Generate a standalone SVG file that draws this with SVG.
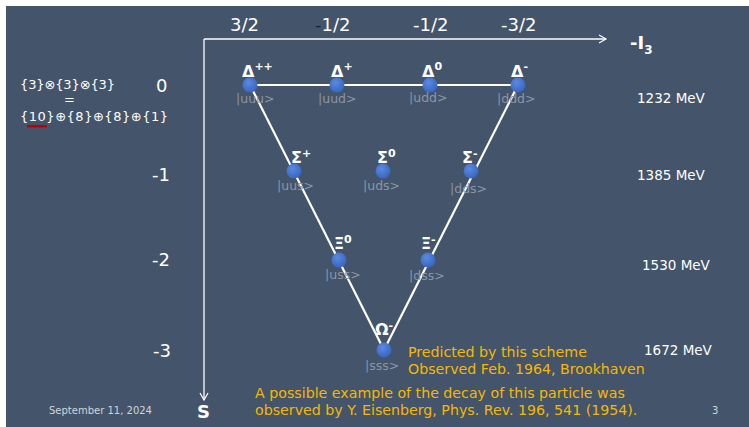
<svg xmlns="http://www.w3.org/2000/svg" width="749" height="427" viewBox="0 0 749 427">
<defs>
<style>
text{font-family:"DejaVu Sans","Verdana",sans-serif;}
.ax{fill:#ffffff;font-size:18px;}
.mev{fill:#ffffff;font-size:13.5px;}
.gr{fill:#ffffff;font-size:16px;font-weight:bold;}
.sup{font-size:11px;}
.ket{fill:#8b96a6;font-size:12.5px;}
.note{fill:#f5b800;font-size:14.2px;}
.small{fill:#d0d4da;font-size:10px;}
.node{fill:url(#ball);}
.conn{stroke:#ffffff;stroke-width:2.2;fill:none;}
.axis{stroke:#ffffff;stroke-width:1.3;fill:none;}
</style>
<radialGradient id="ball" cx="0.4" cy="0.35" r="0.7">
<stop offset="0" stop-color="#5b8ae0"/>
<stop offset="1" stop-color="#3563be"/>
</radialGradient>
<marker id="arr" markerWidth="10" markerHeight="10" refX="8" refY="5" orient="auto" markerUnits="userSpaceOnUse">
<path d="M1,1 L8,5 L1,9" fill="none" stroke="#ffffff" stroke-width="1.2"/>
</marker>
</defs>
<rect x="0" y="0" width="749" height="427" fill="#ffffff"/>
<rect x="6" y="6" width="743" height="421" fill="#44546a"/>

<g id="axes">
<line class="axis" x1="204" y1="39" x2="606" y2="39" marker-end="url(#arr)"/>
<line class="axis" x1="204" y1="39" x2="204" y2="400" marker-end="url(#arr)"/>
<text x="630" y="49" fill="#ffffff" font-size="18" font-weight="bold">-I<tspan font-size="12" dy="5">3</tspan></text>
<text x="197" y="418" fill="#ffffff" font-size="18" font-weight="bold">S</text>
<text class="ax" x="230" y="31">3/2</text>
<text class="ax" x="315" y="31"><tspan fill="#1e2530">-</tspan>1/2</text>
<text class="ax" x="413" y="31">-1/2</text>
<text class="ax" x="501" y="31">-3/2</text>
<text class="ax" x="156" y="92">0</text>
<text class="ax" x="152" y="181">-1</text>
<text class="ax" x="152" y="266">-2</text>
<text class="ax" x="153" y="357">-3</text>
</g>

<g id="masses">
<text class="mev" x="637" y="103">1232 MeV</text>
<text class="mev" x="637" y="180">1385 MeV</text>
<text class="mev" x="642" y="270">1530 MeV</text>
<text class="mev" x="644" y="355">1672 MeV</text>
</g>

<g id="product">
<text x="20" y="89" fill="#ffffff" font-size="13" textLength="95">{3}⊗{3}⊗{3}</text>
<text x="64" y="104" fill="#ffffff" font-size="13">=</text>
<text x="20" y="121" fill="#ffffff" font-size="13" textLength="148">{10}⊕{8}⊕{8}⊕{1}</text>
<rect x="27" y="125" width="20" height="2.5" fill="#c00000"/>
</g>

<g id="connectors">
<line class="conn" x1="250" y1="85" x2="518" y2="85"/>
<line class="conn" x1="250" y1="85" x2="384" y2="350"/>
<line class="conn" x1="518" y1="85" x2="384" y2="350"/>
</g>

<g id="delta_pp"><circle class="node" cx="250" cy="85" r="7.5"/><text class="gr" x="242" y="77">Δ<tspan class="sup" dy="-7">++</tspan></text><text class="ket" x="236" y="103">|uuu&gt;</text></g>
<g id="delta_p"><circle class="node" cx="337" cy="85" r="7.5"/><text class="gr" x="331" y="77">Δ<tspan class="sup" dy="-7">+</tspan></text><text class="ket" x="318" y="103">|uud&gt;</text></g>
<g id="delta_0"><circle class="node" cx="430" cy="85" r="7.5"/><text class="gr" x="422" y="77">Δ<tspan class="sup" dy="-7">0</tspan></text><text class="ket" x="409" y="102">|udd&gt;</text></g>
<g id="delta_m"><circle class="node" cx="518" cy="85" r="7.5"/><text class="gr" x="511" y="77">Δ<tspan class="sup" dy="-7">-</tspan></text><text class="ket" x="497" y="103">|ddd&gt;</text></g>
<g id="sigma_p"><circle class="node" cx="294" cy="171" r="7.5"/><text class="gr" x="291" y="163">Σ<tspan class="sup" dy="-6">+</tspan></text><text class="ket" x="277" y="190">|uus&gt;</text></g>
<g id="sigma_0"><circle class="node" cx="383" cy="171" r="7.5"/><text class="gr" x="377" y="163">Σ<tspan class="sup" dy="-6">0</tspan></text><text class="ket" x="363" y="190">|uds&gt;</text></g>
<g id="sigma_m"><circle class="node" cx="471" cy="171" r="7.5"/><text class="gr" x="462" y="163">Σ<tspan class="sup" dy="-6">-</tspan></text><text class="ket" x="450" y="193">|dds&gt;</text></g>
<g id="xi_0"><circle class="node" cx="339" cy="260" r="7.5"/><text class="gr" x="334" y="249">Ξ<tspan class="sup" dy="-6">0</tspan></text><text class="ket" x="325" y="279">|uss&gt;</text></g>
<g id="xi_m"><circle class="node" cx="428" cy="260" r="7.5"/><text class="gr" x="421" y="249">Ξ<tspan class="sup" dy="-6">-</tspan></text><text class="ket" x="409" y="280">|dss&gt;</text></g>
<g id="omega_m"><circle class="node" cx="384" cy="350" r="7.5"/><text class="gr" x="375" y="335">Ω<tspan class="sup" dy="-6">-</tspan></text><text class="ket" x="365" y="370">|sss&gt;</text></g>

<g id="notes">
<text class="note" x="408" y="357">Predicted by this scheme</text>
<text class="note" x="408" y="374">Observed Feb. 1964, Brookhaven</text>
<text class="note" x="255" y="398">A possible example of the decay of this particle was</text>
<text class="note" x="255" y="415">observed by Y. Eisenberg, Phys. Rev. 196, 541 (1954).</text>
<text class="small" x="49" y="414">September 11, 2024</text>
<text class="small" x="712" y="414">3</text>
</g>
</svg>
